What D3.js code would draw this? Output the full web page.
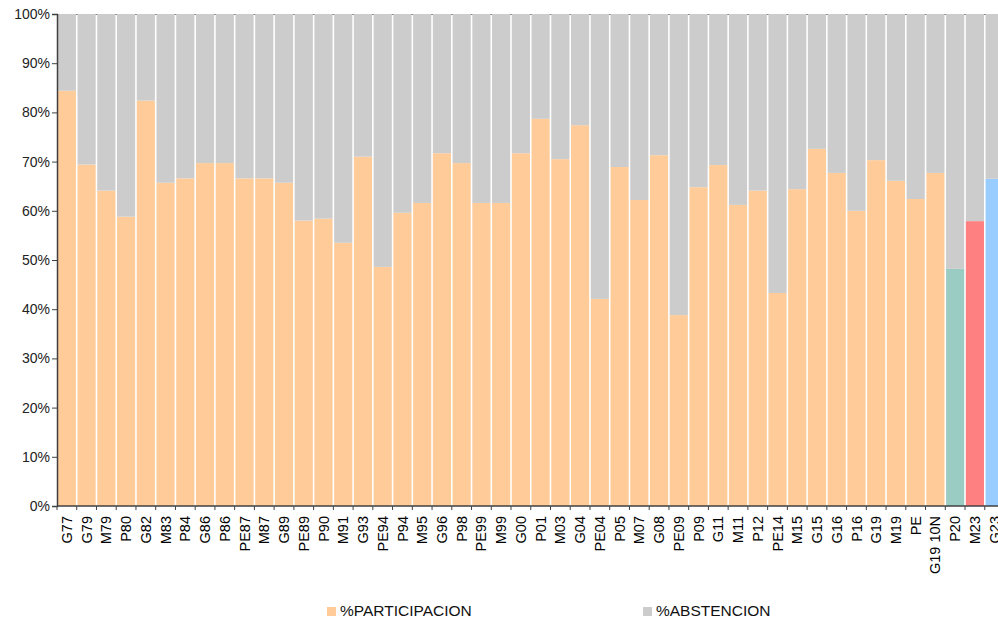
<!DOCTYPE html>
<html>
<head>
<meta charset="utf-8">
<script src="https://cdn.jsdelivr.net/npm/d3@7"></script>
<style>
  body { margin: 0; background: #fff; overflow: hidden; }
  svg { display: block; font-family: "Liberation Sans", Arial, sans-serif; }
</style>
</head>
<body>
<div id="chart"></div>
<script>
// Election labels (x categories)
const elections = ['G77', 'G79', 'M79', 'P80', 'G82', 'M83', 'P84', 'G86', 'P86', 'PE87', 'M87', 'G89',
  'PE89', 'P90', 'M91', 'G93', 'PE94', 'P94', 'M95', 'G96', 'P98', 'PE99', 'M99', 'G00', 'P01', 'M03',
  'G04', 'PE04', 'P05', 'M07', 'G08', 'PE09', 'P09', 'G11', 'M11', 'P12', 'PE14', 'M15', 'G15', 'G16',
  'P16', 'G19', 'M19', 'PE', 'G19 10N', 'P20', 'M23', 'G23'];

// % participacion
const participacion = [84.4, 69.4, 64.1, 58.8, 82.4, 65.7, 66.6, 69.7, 69.7, 66.6, 66.6, 65.7,
  58.0, 58.4, 53.5, 71.0, 48.6, 59.6, 61.6, 71.7, 69.7, 61.6, 61.6, 71.7, 78.7, 70.5,
  77.4, 42.1, 68.9, 62.2, 71.3, 38.8, 64.8, 69.3, 61.2, 64.1, 43.3, 64.4, 72.6, 67.7,
  60.0, 70.3, 66.1, 62.4, 67.7, 48.2, 57.9, 66.5];

// % abstencion = rest up to 100
const abstencion = participacion.map(p => +(100 - p).toFixed(1));

const yTicks = [0, 10, 20, 30, 40, 50, 60, 70, 80, 90, 100];

const seriesNames = ['%PARTICIPACION', '%ABSTENCION'];
const seriesColors = ['#ffcc99', '#cccccc'];
// the last three bars get their own colour
const specialColors = { 'P20': '#9bccc4', 'M23': '#ff8080', 'G23': '#99ccff' };

const width = 998, height = 622;
const margin = { top: 14, left: 57, bottom: 116 };
const plotRight = 1004.5;
const plotBottom = height - margin.bottom;

const svg = d3.select('#chart')
  .append('svg')
    .attr('width', width)
    .attr('height', height);

const x = d3.scaleBand()
  .domain(elections)
  .range([margin.left, plotRight])
  .paddingInner(0.08)
  .paddingOuter(0.04);

const y = d3.scaleLinear()
  .domain([0, 100])
  .range([plotBottom, margin.top]);

// top frame line, shows through the gaps
svg.append('line')
  .attr('x1', margin.left).attr('x2', plotRight)
  .attr('y1', y(100) + 0.5).attr('y2', y(100) + 0.5)
  .attr('stroke', '#808080');

const rows = elections.map((e, i) => ({ e, p: participacion[i], a: abstencion[i] }));
const stack = d3.stack().keys(['p', 'a'])(rows);

svg.append('g')
  .selectAll('g')
  .data(stack)
  .enter()
  .append('g')
  .selectAll('rect')
  .data((s, k) => s.map(d => ({ d, k })))
  .enter()
  .append('rect')
    .attr('x', o => x(o.d.data.e))
    .attr('y', o => y(o.d[1]))
    .attr('width', x.bandwidth())
    .attr('height', o => y(o.d[0]) - y(o.d[1]))
    .attr('fill', o => (o.k === 0 && specialColors[o.d.data.e]) ? specialColors[o.d.data.e] : seriesColors[o.k]);

// Y axis
const yAxis = svg.append('g')
  .attr('transform', `translate(${margin.left},0)`)
  .call(d3.axisLeft(y).tickValues(yTicks).tickSize(5).tickFormat(d => d + '%'));
yAxis.select('.domain').attr('stroke', '#404040').attr('stroke-width', 1.5);
yAxis.selectAll('.tick line').attr('stroke', '#404040');
yAxis.selectAll('.tick text')
  .attr('x', -7)
  .style('font-size', '14px')
  .attr('fill', '#222');

// X axis: ticks at bar boundaries
const xAxis = svg.append('g')
  .attr('transform', `translate(0,${plotBottom})`);
xAxis.append('line')
  .attr('x1', margin.left).attr('x2', plotRight)
  .attr('stroke', '#404040').attr('stroke-width', 1.5);
const step = x.step();
xAxis.selectAll('.bt')
  .data(elections)
  .enter()
  .append('line')
    .attr('class', 'bt')
    .attr('x1', e => x(e) - step * x.paddingInner() / 2)
    .attr('x2', e => x(e) - step * x.paddingInner() / 2)
    .attr('y1', 0).attr('y2', 4)
    .attr('stroke', '#404040');

xAxis.selectAll('.lbl')
  .data(elections)
  .enter()
  .append('text')
    .attr('class', 'lbl')
    .attr('transform', e => `translate(${x(e) + x.bandwidth() / 2},10) rotate(-90)`)
    .attr('text-anchor', 'end')
    .attr('dy', '0.35em')
    .style('font-size', '14.5px')
    .attr('fill', '#000')
    .text(e => e);

// Legend
const legendX = [327, 643];
const legend = svg.append('g');
seriesNames.forEach((n, i) => {
  legend.append('rect')
    .attr('x', legendX[i]).attr('y', 607)
    .attr('width', 9).attr('height', 9)
    .attr('fill', seriesColors[i]);
  legend.append('text')
    .attr('x', legendX[i] + 13).attr('y', 616)
    .style('font-size', '15.5px')
    .attr('fill', '#111')
    .text(n);
});
</script>
</body>
</html>
